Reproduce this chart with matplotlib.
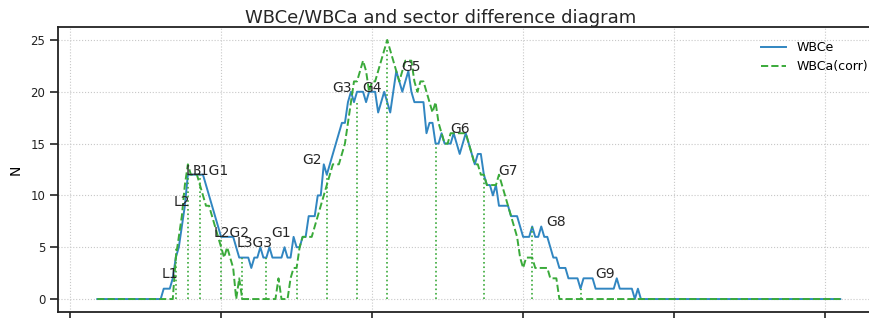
import numpy as np
import matplotlib
matplotlib.use("Agg")
import matplotlib.pyplot as plt

# x positions of the histogram bins
x = np.arange(9, 256)

# WBCe, bins 31..189 (zero elsewhere)
wbce_mid = [
    1, 1, 1, 2, 4, 5, 7, 9, 12, 12,          # 31-40
    12, 12, 12, 12, 11, 10, 9, 8, 7, 6,      # 41-50
    6, 6, 6, 6, 5, 4, 4, 4, 4, 3,            # 51-60
    4, 4, 5, 4, 4, 5, 4, 4, 4, 4,            # 61-70
    5, 4, 4, 6, 5, 5, 6, 6, 8, 8,            # 71-80
    8, 10, 10, 13, 12, 13, 14, 15, 16, 17,   # 81-90
    17, 19, 20, 19, 20, 20, 20, 19, 20, 20,  # 91-100
    20, 18, 19, 20, 19, 18, 20, 22, 21, 20,  # 101-110
    21, 22, 20, 19, 19, 19, 19, 16, 17, 17,  # 111-120
    15, 15, 16, 15, 15, 15, 16, 15, 14, 15,  # 121-130
    16, 15, 14, 13, 14, 14, 12, 11, 11, 10,  # 131-140
    11, 9, 9, 9, 9, 8, 8, 8, 7, 6,           # 141-150
    6, 6, 7, 6, 6, 7, 6, 6, 5, 4,            # 151-160
    4, 3, 3, 3, 2, 2, 2, 2, 1, 2,            # 161-170
    2, 2, 2, 1, 1, 1, 1, 1, 1, 1,            # 171-180
    2, 1, 1, 1, 1, 1, 0, 1, 0,               # 181-189
]

# WBCa(corr), bins 31..189 (zero elsewhere)
wbca_mid = [
    0, 0, 0, 0, 4, 6, 8, 11, 13, 12,         # 31-40
    12, 12, 11, 10, 9, 9, 8, 7, 6, 5,        # 41-50
    4, 5, 4, 3, 0, 2, 0, 0, 0, 0,            # 51-60
    0, 0, 0, 0, 0, 0, 0, 0, 2, 0,            # 61-70
    0, 0, 2, 3, 3, 5, 6, 6, 6, 6,            # 71-80
    7, 8, 9, 10, 11, 12, 13, 13, 13, 14,     # 81-90
    15, 17, 19, 21, 21, 22, 23, 22, 20, 21,  # 91-100
    21, 22, 23, 24, 25, 24, 23, 22, 21, 22,  # 101-110
    23, 23, 23, 21, 20, 21, 21, 20, 19, 18,  # 111-120
    19, 17, 16, 15, 15, 16, 16, 16, 16, 16,  # 121-130
    16, 15, 14, 13, 13, 12, 12, 11, 11, 11,  # 131-140
    11, 12, 11, 10, 9, 8, 7, 6, 4, 3,        # 141-150
    4, 4, 4, 3, 3, 3, 3, 3, 2, 2,            # 151-160
    2, 0, 0, 0, 0, 0, 0, 0, 0, 0,            # 161-170
    0, 0, 0, 0, 0, 0, 0, 0, 0, 0,            # 171-180
    0, 0, 0, 0, 0, 0, 0, 0, 0,               # 181-189
]

wbce = np.array([0] * 22 + wbce_mid + [0] * 66)
wbca = np.array([0] * 22 + wbca_mid + [0] * 66)

# sector boundaries, marker heights and names
sector_edges = [31, 35, 39, 43, 50, 57, 65, 75, 85, 95, 105, 121, 137, 153, 169, 185]
edge_heights = [0, 5, 12, 12, 6, 4, 4, 3, 12, 19, 24, 15, 12, 7, 1, 0]
sector_names = ["L1", "L2", "L3", "L1G1", "L2G2", "L3G3", "G1", "G2", "G3",
                "G4", "G5", "G6", "G7", "G8", "G9"]

blue = "#3186c1"
green = "#3aaa3a"

fig = plt.figure(figsize=(8.69, 3.18), dpi=100)
ax = fig.add_axes([58 / 869, 6 / 318, 817 / 869, 285 / 318])

ax.plot(x, wbce, color=blue, lw=1.4, label="WBCe")
ax.plot(x, wbca, color=green, lw=1.4, ls="--", label="WBCa(corr)")
ax.vlines(sector_edges, 0, edge_heights, colors=green, linestyles=":", lw=1.2)

for i, name in enumerate(sector_names):
    a, b = sector_edges[i], sector_edges[i + 1]
    top = wbce[(x >= a) & (x < b)].max()
    ax.text((a + b) / 2, top, name, ha="center", va="baseline",
            fontsize=10, color="#262626")

ax.set_xlim(-4, 266.5)
ax.set_xticks([0, 50, 100, 150, 200, 250])
ax.set_yticks([0, 5, 10, 15, 20, 25])
ax.grid(True, ls=":", color="#c8c8c8", lw=0.8)
ax.tick_params(direction="out", length=6, width=1.2, labelsize=8.5,
               colors="#222222", pad=3)
ax.tick_params(axis="x", labelbottom=False)
for s in ax.spines.values():
    s.set_linewidth(1.3)
    s.set_color("#222222")

ax.set_ylabel("N", fontsize=10)
ax.yaxis.set_label_coords(-0.043, 0.5)
ax.set_title("WBCe/WBCa and sector difference diagram", fontsize=13,
             x=0.468, pad=2, color="#262626")
ax.legend(loc="upper right", frameon=False, fontsize=9,
          bbox_to_anchor=(1.005, 0.99))

fig.savefig("out.png", dpi=100)
